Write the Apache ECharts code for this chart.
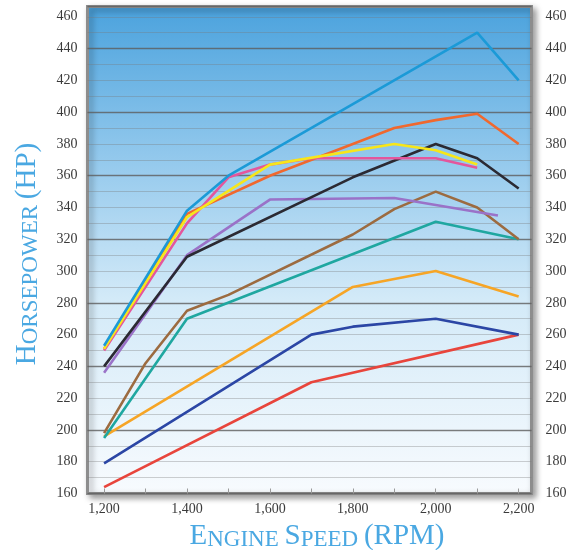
<!DOCTYPE html>
<html>
<head>
<meta charset="utf-8">
<script src="https://cdn.jsdelivr.net/npm/echarts@6/dist/echarts.min.js"></script>
<style>
html,body{margin:0;padding:0;background:#ffffff;}
#chart{width:576px;height:550px;}
</style>
</head>
<body>
<div id="chart"></div>
<script>
// ---- data ----
const _ = null;
const rpm = [1200, 1300, 1400, 1500, 1600, 1700, 1800, 1900, 2000, 2100, 2150, 2200];
const hpLightBlue = [253, _, 338, 360, _, _, _, _, _, 450, _, 420];
const hpOrangeRed = [251, _, 336, _, 360, _, 380, 390, 395, 399, _, 380];
const hpYellow    = [251, _, 334, _, 367, _, _, 380, 376, 367, _, _];
const hpPink      = [250, _, 330, 359, 367, 371, _, _, 371, 365, _, _];
const hpBlack     = [240, _, 309, _, _, _, 359, _, 380, 371, _, 352];
const hpPurple    = [236, _, 310, _, 345, _, _, 346, _, _, 335, _];
const hpBrown     = [198, 242, 275, 285, _, _, 323, 339, 350, 340, _, 320];
const hpTeal      = [195, _, 270, _, _, _, _, _, 331, _, _, 320];
const hpOrange    = [196, _, _, _, _, _, 290, _, 300, _, _, 284];
const hpDarkBlue  = [179, _, _, _, _, 260, 265, _, 270, _, _, 260];
const hpRed       = [164, _, _, _, _, 230, _, _, _, _, _, 260];

const xLabelTicks = [1200, 1400, 1600, 1800, 2000, 2200];
const xMinorTicks = [1200, 1300, 1400, 1500, 1600, 1700, 1800, 1900, 2000, 2100, 2200];

const seriesDefs = [
  {name: 'Red',        data: hpRed,       color: '#e8453c'},
  {name: 'Dark blue',  data: hpDarkBlue,  color: '#2b46a5'},
  {name: 'Orange',     data: hpOrange,    color: '#f6a526'},
  {name: 'Teal',       data: hpTeal,      color: '#1fa7a0'},
  {name: 'Brown',      data: hpBrown,     color: '#9c6b40'},
  {name: 'Purple',     data: hpPurple,    color: '#9a72c8'},
  {name: 'Black',      data: hpBlack,     color: '#2b2a33'},
  {name: 'Orange red', data: hpOrangeRed, color: '#f0682e'},
  {name: 'Pink',       data: hpPink,      color: '#e4569c'},
  {name: 'Yellow',     data: hpYellow,    color: '#f7e61a'},
  {name: 'Light blue', data: hpLightBlue, color: '#1b9ad7'}
];

const chart = echarts.init(document.getElementById('chart'), null, {renderer: 'canvas'});

const tickFont = {fontFamily: '"Liberation Serif", "DejaVu Serif", serif', fontSize: 14, color: '#3a3a3a'};
const titleBlue = '#4aa8e2';
const titleRich = {
  b: {fontFamily: '"Liberation Serif", serif', fontSize: 29, fill: titleBlue, verticalAlign: 'bottom', lineHeight: 32},
  s: {fontFamily: '"Liberation Serif", serif', fontSize: 23, fill: titleBlue, verticalAlign: 'bottom', lineHeight: 32}
};

const yBase = {type: 'value', min: 160, max: 466.5, axisLine: {show: false}, axisTick: {show: false}};

const option = {
  backgroundColor: '#ffffff',
  animation: false,
  grid: {
    left: 87.5, right: 44.5, top: 6.5, bottom: 56.5,
    outerBoundsMode: 'none',
    show: true,
    borderColor: '#8d8d8d',
    borderWidth: 3,
    backgroundColor: {
      type: 'linear', x: 0, y: 0, x2: 0, y2: 1,
      colorStops: [
        {offset: 0, color: '#4aa2dd'},
        {offset: 0.3, color: '#90c7ec'},
        {offset: 0.6, color: '#d3eaf8'},
        {offset: 1, color: '#f8fbfe'}
      ]
    },
    shadowColor: 'rgba(0,0,0,0.35)',
    shadowBlur: 6,
    shadowOffsetX: 3,
    shadowOffsetY: 3
  },
  xAxis: {
    type: 'value', min: 1160, max: 2231,
    axisLine: {show: false},
    splitLine: {show: false},
    axisTick: {show: true, inside: true, length: 5, customValues: xMinorTicks, lineStyle: {color: '#9a9a9a', width: 1}},
    axisLabel: Object.assign({
      customValues: xLabelTicks, margin: 9,
      formatter: v => echarts.format.addCommas(v)
    }, tickFont)
  },
  yAxis: [
    Object.assign({}, yBase, {
      position: 'left', interval: 10,
      splitLine: {show: true, lineStyle: {color: 'rgba(120,120,120,0.35)', width: 1}},
      axisLabel: Object.assign({margin: 10, formatter: v => (v % 20 === 0 ? String(v) : '')}, tickFont)
    }),
    Object.assign({}, yBase, {
      position: 'right', interval: 20,
      splitLine: {show: false},
      axisLabel: Object.assign({margin: 14, formatter: v => (v % 20 === 0 ? String(v) : '')}, tickFont)
    }),
    Object.assign({}, yBase, {
      position: 'left', interval: 40,
      splitLine: {show: true, lineStyle: {color: 'rgba(90,90,90,0.7)', width: 1.3}},
      axisLabel: {show: false}
    })
  ],
  series: seriesDefs.map(d => ({
    name: d.name,
    type: 'line',
    yAxisIndex: 0,
    symbol: 'none',
    lineStyle: {color: d.color, width: 2.6},
    itemStyle: {color: d.color},
    data: rpm.map((r, i) => [r, d.data[i]]).filter(p => p[1] !== null)
  })),
  graphic: [
    {
      type: 'text', x: 26, y: 254, rotation: Math.PI / 2,
      style: {
        text: '{b|H}{s|ORSEPOWER }{b|(HP)}',
        fill: titleBlue,
        rich: titleRich, align: 'center', verticalAlign: 'middle'
      }
    },
    {
      type: 'text', x: 317, y: 535,
      style: {
        text: '{b|E}{s|NGINE }{b|S}{s|PEED }{b|(RPM)}',
        fill: titleBlue,
        rich: titleRich, align: 'center', verticalAlign: 'middle'
      }
    }
  ]
};

chart.setOption(option);
</script>
</body>
</html>
